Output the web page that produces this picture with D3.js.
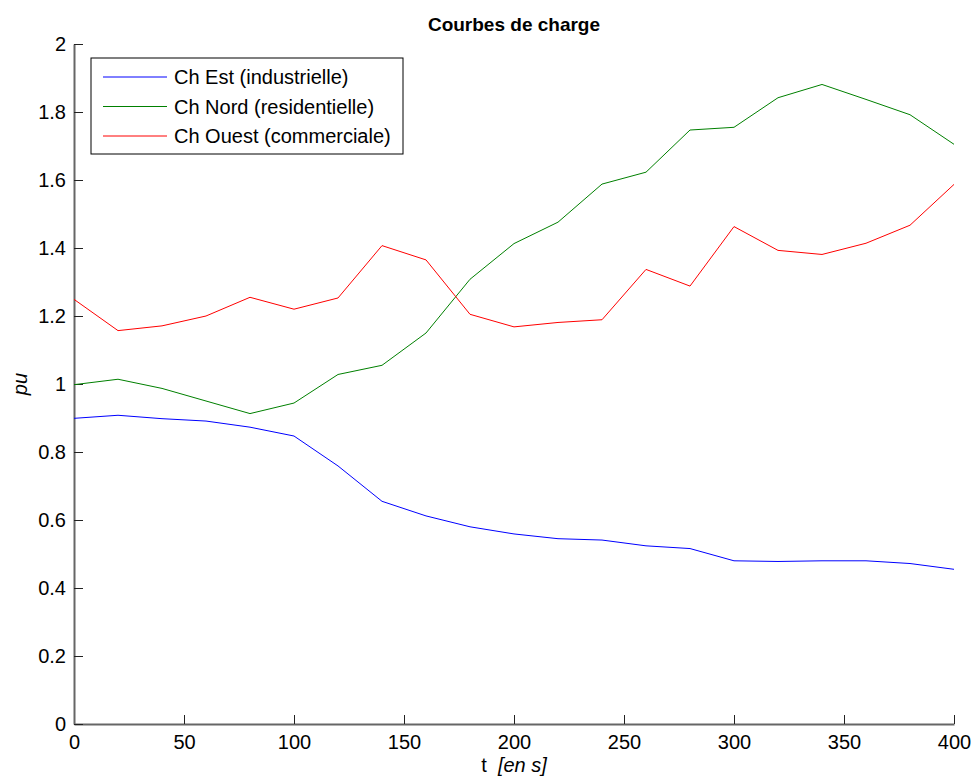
<!DOCTYPE html>
<html>
<head>
<meta charset="utf-8">
<script src="https://cdn.jsdelivr.net/npm/d3@7"></script>
<style>
  body { margin: 0; background: #fff; }
  text { font-family: "Liberation Sans", Arial, sans-serif; }
</style>
</head>
<body>
<div id="chart"></div>
<script>
// time samples (s)
var times = [0, 20, 40, 60, 80, 100, 120, 140, 160, 180, 200, 220, 240, 260, 280, 300, 320, 340, 360, 380, 400];

// load curves (pu)
var chEst = [0.899, 0.908, 0.898, 0.891, 0.873, 0.847, 0.759, 0.655, 0.612, 0.580, 0.559, 0.545, 0.541, 0.524, 0.516, 0.480, 0.478, 0.480, 0.480, 0.472, 0.455];
var chNord = [0.998, 1.014, 0.987, 0.950, 0.913, 0.944, 1.028, 1.055, 1.150, 1.308, 1.413, 1.476, 1.588, 1.623, 1.747, 1.755, 1.842, 1.881, 1.837, 1.792, 1.705];
var chOuest = [1.249, 1.157, 1.171, 1.200, 1.255, 1.220, 1.253, 1.407, 1.365, 1.205, 1.168, 1.181, 1.189, 1.337, 1.288, 1.463, 1.393, 1.381, 1.414, 1.467, 1.587];

var seriesNames = ["Ch Est (industrielle)", "Ch Nord (residentielle)", "Ch Ouest (commerciale)"];
var seriesColors = ["#0000ff", "#008000", "#ff0000"];

var xTicks = [0, 50, 100, 150, 200, 250, 300, 350, 400];
var yTicks = [0, 0.2, 0.4, 0.6, 0.8, 1, 1.2, 1.4, 1.6, 1.8, 2];

var svgWidth = 977;
var svgHeight = 783;

var margin = {
  top: 44,
  left: 74,
  right: 23,
  bottom: 59
};

var width = svgWidth - margin.left - margin.right;
var height = svgHeight - margin.top - margin.bottom;

var svg = d3.select("#chart")
  .append("svg")
  .attr("width", svgWidth)
  .attr("height", svgHeight);

var chartGroup = svg.append("g")
  .attr("transform", `translate(${margin.left}, ${margin.top})`);

// scales
var xScale = d3.scaleLinear().domain([0, 400]).range([0, width]);
var yScale = d3.scaleLinear().domain([0, 2]).range([height, 0]);

// axes, ticks pointing inward like matlab
var xAxis = d3.axisBottom(xScale)
  .tickValues(xTicks)
  .tickSizeInner(-9)
  .tickSizeOuter(0)
  .tickPadding(11)
  .tickFormat(d3.format("d"));

var yAxis = d3.axisLeft(yScale)
  .tickValues(yTicks)
  .tickSizeInner(-9)
  .tickSizeOuter(0)
  .tickPadding(8)
  .tickFormat(d => d === 0 || d === 1 || d === 2 ? d : d.toFixed(1));

var xg = chartGroup.append("g")
  .attr("transform", `translate(0, ${height})`)
  .call(xAxis);

var yg = chartGroup.append("g")
  .call(yAxis);

[xg, yg].forEach(function(g) {
  g.select(".domain").attr("stroke", "#666").attr("stroke-width", 2);
  g.selectAll(".tick line").attr("stroke", "#222");
  g.selectAll(".tick text")
    .attr("fill", "#000")
    .style("font-size", "20px");
});

// lines
var allSeries = [chEst, chNord, chOuest];
var line = d3.line()
  .x((d, i) => xScale(times[i]))
  .y(d => yScale(d));

chartGroup.selectAll(".curve")
  .data(allSeries)
  .enter()
  .append("path")
  .attr("class", "curve")
  .attr("d", line)
  .attr("fill", "none")
  .attr("stroke", (d, i) => seriesColors[i])
  .attr("stroke-width", 1);

// title
svg.append("text")
  .attr("x", margin.left + width / 2)
  .attr("y", 31)
  .attr("text-anchor", "middle")
  .style("font-size", "19px")
  .style("font-weight", "bold")
  .text("Courbes de charge");

// y label
svg.append("text")
  .attr("transform", `translate(27, ${margin.top + yScale(1)}) rotate(-90)`)
  .attr("text-anchor", "middle")
  .style("font-size", "20px")
  .style("font-style", "italic")
  .text("pu");

// x label
var xLabel = svg.append("text")
  .attr("x", margin.left + width / 2)
  .attr("y", 772)
  .attr("text-anchor", "middle")
  .attr("xml:space", "preserve")
  .style("font-size", "20px");
xLabel.append("tspan").text("t  ");
xLabel.append("tspan").style("font-style", "italic").text("[en s]");

// legend
var legend = svg.append("g");
legend.append("rect")
  .attr("x", 91)
  .attr("y", 58)
  .attr("width", 312)
  .attr("height", 96)
  .attr("fill", "#fff")
  .attr("stroke", "#000")
  .attr("stroke-width", 1);

var rows = legend.selectAll(".row")
  .data(seriesNames)
  .enter()
  .append("g")
  .attr("transform", (d, i) => `translate(0, ${77 + i * 29.5})`);

rows.append("line")
  .attr("x1", 103)
  .attr("x2", 167)
  .attr("stroke", (d, i) => seriesColors[i])
  .attr("stroke-width", 1);

rows.append("text")
  .attr("x", 174)
  .attr("dy", "0.35em")
  .style("font-size", "20px")
  .text(d => d);
</script>
</body>
</html>
